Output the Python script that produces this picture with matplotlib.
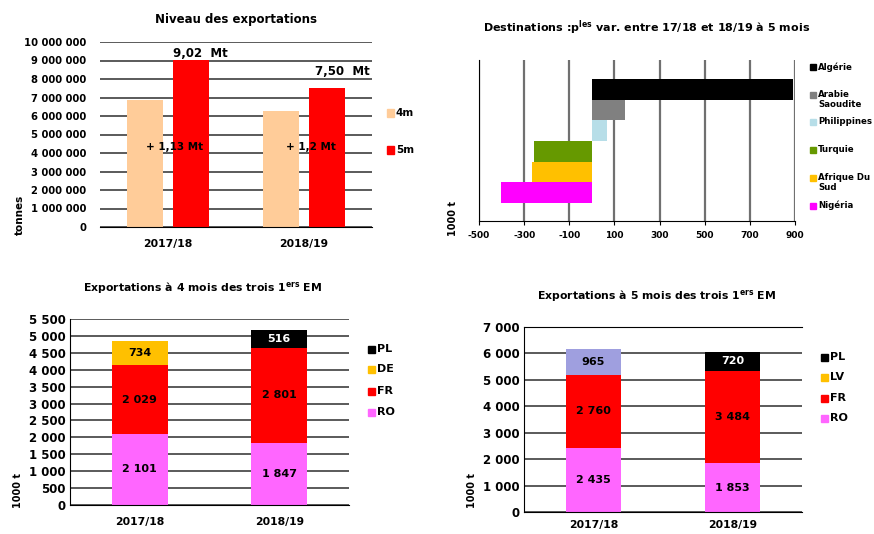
import matplotlib
matplotlib.use('Agg')
import matplotlib.pyplot as plt
from matplotlib.patches import Rectangle
from matplotlib.ticker import FuncFormatter, MultipleLocator
import numpy as np

W, H = 874, 534
plt.rcParams['font.family'] = ['DejaVu Sans']
plt.rcParams['font.weight'] = 'bold'
plt.rcParams['mathtext.default'] = 'bf'
plt.rcParams['axes.unicode_minus'] = False

# --- data ---
seasons = ['2017/18', '2018/19']

exp_4m = [6860000, 6290000]
exp_5m = [9020000, 7500000]
total_labels = ['9,02  Mt', '7,50  Mt']
diff_labels = ['+ 1,13 Mt', '+ 1,2 Mt']

dest_names = ['Algérie', 'Arabie\nSaoudite', 'Philippines', 'Turquie', 'Afrique Du\nSud', 'Nigéria']
dest_var = [890, 147, 66, -256, -267, -402]
dest_colors = ['#000000', '#808080', '#b7dee8', '#669900', '#ffc000', '#ff00ff']

ro_4m = [2101, 1847]
fr_4m = [2029, 2801]
de_4m = [734, 0]
pl_4m = [0, 516]

ro_5m = [2435, 1853]
fr_5m = [2760, 3484]
autre_5m = [965, 0]
lv_5m = [0, 0]
pl_5m = [0, 720]

GRID = '#4d4d4d'


def box(l, t, r, b):
    return [l / W, 1 - b / H, (r - l) / W, (b - t) / H]


def legend(items, x, ys, size, fs):
    for (name, color), y in zip(items, ys):
        fig.add_artist(Rectangle((x / W, 1 - (y + size / 2) / H), size / W, size / H,
                                 color=color, transform=fig.transFigure))
        fig.text((x + size + 2) / W, 1 - (y - 5) / H, name, fontsize=fs,
                 va='top', ha='left', linespacing=1.15)


def spaced(v, pos=None):
    return f'{v:,.0f}'.replace(',', ' ')


fig = plt.figure(figsize=(W / 100, H / 100), dpi=100)
x = np.arange(len(seasons))

# --- 1: Niveau des exportations ---
ax1 = fig.add_axes(box(100, 42, 372, 227))
ax1.bar(x - 0.17, exp_4m, 0.27, color='#ffcc99', zorder=2)
ax1.bar(x + 0.17, exp_5m, 0.27, color='#ff0000', zorder=2)
ax1.set_xlim(-0.5, 1.5)
ax1.set_ylim(0, 10000000)
ax1.yaxis.set_major_locator(MultipleLocator(1000000))
ax1.yaxis.set_major_formatter(FuncFormatter(spaced))
ax1.grid(axis='y', color=GRID, lw=1.3, zorder=0)
ax1.set_xticks(x, seasons)
ax1.tick_params(axis='y', length=0, pad=10, labelsize=7.2)
ax1.tick_params(axis='x', length=0, pad=9, labelsize=7.8)
for s in ['top', 'right', 'left']:
    ax1.spines[s].set_visible(False)
ax1.text(0.235, exp_5m[0] + 380000, total_labels[0], ha='center', va='center', fontsize=8.5)
ax1.text(1.28, exp_5m[1] + 880000, total_labels[1], ha='center', va='center', fontsize=8.5)
for i, lab in enumerate(diff_labels):
    ax1.text(i + 0.05, 4340000, lab, ha='center', va='center', fontsize=7.5, zorder=3)
ax1.set_title('Niveau des exportations', fontsize=8.5, fontweight='bold', pad=14)
fig.text(20 / W, 1 - 215 / H, 'tonnes', rotation=90, ha='center', va='center', fontsize=7.5)
legend([('4m', '#ffcc99'), ('5m', '#ff0000')], 387, [113, 150], 7, 7.5)

# --- 2: Destinations ---
ax2 = fig.add_axes(box(479, 60, 795, 221))
ypos = np.arange(len(dest_names))[::-1]
ax2.barh(ypos, dest_var, 1.0, color=dest_colors, zorder=2)
ax2.set_xlim(-500, 900)
ax2.set_ylim(-0.5 - 0.88, 5.5 + 0.93)
ax2.set_xticks(range(-500, 901, 200))
ax2.set_yticks([])
ax2.grid(axis='x', color='#707070', lw=1.6, zorder=0)
ax2.tick_params(axis='x', length=3, pad=4, labelsize=6.5)
for s in ['top', 'right']:
    ax2.spines[s].set_visible(False)
fig.text(647 / W, 1 - 28 / H, 'Destinations :p$^{les}$ var. entre 17/18 et 18/19 à 5 mois',
         ha='center', va='center', fontsize=8)
fig.text(453 / W, 1 - 218 / H, '1000 t', rotation=90, ha='center', va='center', fontsize=7)
legend(list(zip(dest_names, dest_colors)), 810, [67, 95, 122, 150, 178, 206], 6, 6.2)

# --- 3: Exportations à 4 mois ---
ax3 = fig.add_axes(box(70, 319, 349, 505))
b = np.zeros(2)
for vals, col in [(ro_4m, '#ff66ff'), (fr_4m, '#ff0000'), (de_4m, '#ffc000'), (pl_4m, '#000000')]:
    ax3.bar(x, vals, 0.4, bottom=b, color=col, zorder=2)
    for i, v in enumerate(vals):
        if v:
            ax3.text(i, b[i] + v / 2, spaced(v), ha='center', va='center', fontsize=8,
                     color='white' if col == '#000000' else 'black', zorder=3)
    b += vals
ax3.set_xlim(-0.5, 1.5)
ax3.set_ylim(0, 5500)
ax3.yaxis.set_major_locator(MultipleLocator(500))
ax3.yaxis.set_major_formatter(FuncFormatter(spaced))
ax3.grid(axis='y', color=GRID, lw=1.3, zorder=0)
ax3.set_xticks(x, seasons)
ax3.tick_params(axis='y', length=0, pad=3, labelsize=8.5)
ax3.tick_params(axis='x', length=0, pad=9, labelsize=7.8)
for s in ['top', 'right']:
    ax3.spines[s].set_visible(False)
fig.text(203 / W, 1 - 288 / H, 'Exportations à 4 mois des trois 1$^{ers}$ EM',
         ha='center', va='center', fontsize=7.8)
fig.text(18 / W, 1 - 490 / H, '1000 t', rotation=90, ha='center', va='center', fontsize=7)
legend([('PL', '#000000'), ('DE', '#ffc000'), ('FR', '#ff0000'), ('RO', '#ff66ff')],
       368, [349, 369, 391, 412], 7, 8)

# --- 4: Exportations à 5 mois ---
ax4 = fig.add_axes(box(524, 327, 802, 512))
b = np.zeros(2)
for vals, col in [(ro_5m, '#ff66ff'), (fr_5m, '#ff0000'), (autre_5m, '#9f9fdf'),
                  (lv_5m, '#ffc000'), (pl_5m, '#000000')]:
    ax4.bar(x, vals, 0.4, bottom=b, color=col, zorder=2)
    for i, v in enumerate(vals):
        if v:
            ax4.text(i, b[i] + v / 2, spaced(v), ha='center', va='center', fontsize=8,
                     color='white' if col == '#000000' else 'black', zorder=3)
    b += vals
ax4.set_xlim(-0.5, 1.5)
ax4.set_ylim(0, 7000)
ax4.yaxis.set_major_locator(MultipleLocator(1000))
ax4.yaxis.set_major_formatter(FuncFormatter(spaced))
ax4.grid(axis='y', color=GRID, lw=1.3, zorder=0)
ax4.set_xticks(x, seasons)
ax4.tick_params(axis='y', length=0, pad=3, labelsize=8.5)
ax4.tick_params(axis='x', length=0, pad=6, labelsize=7.8)
ax4.spines['right'].set_visible(False)
fig.text(657 / W, 1 - 296 / H, 'Exportations à 5 mois des trois 1$^{ers}$ EM',
         ha='center', va='center', fontsize=7.8)
fig.text(472 / W, 1 - 490 / H, '1000 t', rotation=90, ha='center', va='center', fontsize=7)
legend([('PL', '#000000'), ('LV', '#ffc000'), ('FR', '#ff0000'), ('RO', '#ff66ff')],
       821, [357, 377, 398, 418], 7, 8)

fig.savefig('out.png', dpi=100)
